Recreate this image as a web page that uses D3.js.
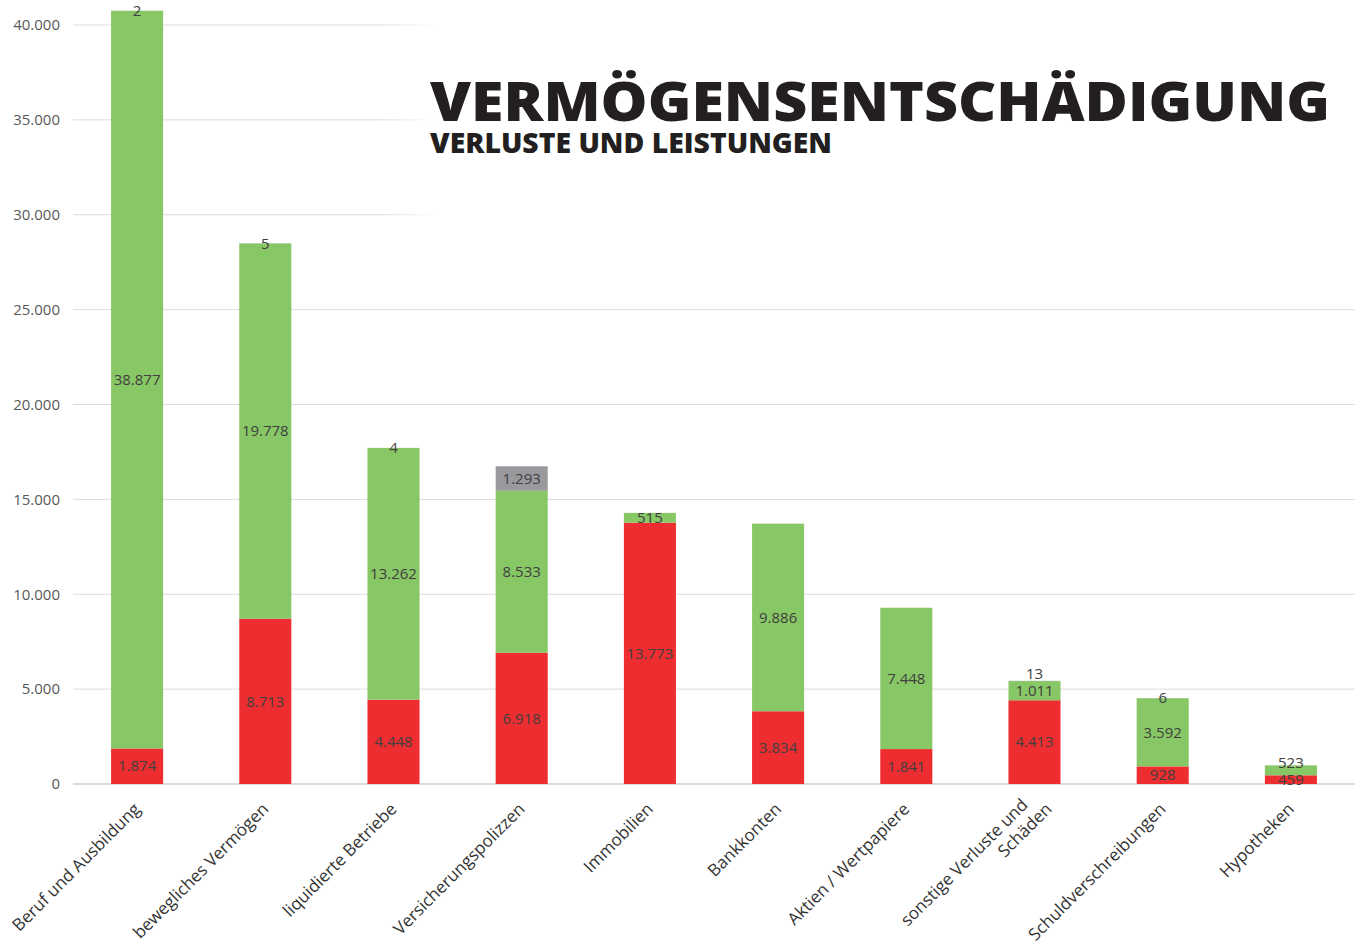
<!DOCTYPE html>
<html>
<head>
<meta charset="utf-8">
<script src="https://cdn.jsdelivr.net/npm/d3@7"></script>
<style>
  body { margin: 0; background: #fff; }
  svg text { font-family: "Open Sans", "DejaVu Sans", sans-serif; }
</style>
</head>
<body>
<div id="chart"></div>
<script>
// Data
var categories = ["Beruf und Ausbildung", "bewegliches Vermögen", "liquidierte Betriebe",
  "Versicherungspolizzen", "Immobilien", "Bankkonten", "Aktien / Wertpapiere",
  "sonstige Verluste und Schäden", "Schuldverschreibungen", "Hypotheken"];
var redValues = [1874, 8713, 4448, 6918, 13773, 3834, 1841, 4413, 928, 459];
var greenValues = [38877, 19778, 13262, 8533, 515, 9886, 7448, 1011, 3592, 523];
var greyValues = [2, 5, 4, 1293, 0, 0, 0, 13, 6, 0];
var yTicks = [0, 5000, 10000, 15000, 20000, 25000, 30000, 35000, 40000];

var svgWidth = 1357;
var svgHeight = 947;
var margin = { top: 25, right: 2, bottom: 163, left: 73 };
var width = svgWidth - margin.left - margin.right;
var height = svgHeight - margin.top - margin.bottom;

var svg = d3.select("#chart").append("svg")
  .attr("width", svgWidth)
  .attr("height", svgHeight);

var chartGroup = svg.append("g")
  .attr("transform", `translate(${margin.left}, ${margin.top})`);

var xScale = d3.scaleBand()
  .domain(categories)
  .range([0, width])
  .paddingInner(0.594)
  .paddingOuter(0.297);

var yScale = d3.scaleLinear()
  .domain([0, 40000])
  .range([height, 0]);

var fmt = function (v) { return d3.format(",")(v).replace(/,/g, "."); };

// gridlines
chartGroup.append("g")
  .selectAll("line")
  .data(yTicks)
  .enter()
  .append("line")
  .attr("x1", 0)
  .attr("x2", width)
  .attr("y1", d => yScale(d))
  .attr("y2", d => yScale(d))
  .attr("stroke", d => d === 0 ? "#d0d0d0" : "#dcdcdc")
  .attr("stroke-width", d => d === 0 ? 1.5 : 1);

// y axis
var leftAxis = d3.axisLeft(yScale).tickValues(yTicks).tickSize(0).tickPadding(13)
  .tickFormat(fmt);
var yAxisG = chartGroup.append("g").call(leftAxis);
yAxisG.select(".domain").remove();
yAxisG.selectAll("text")
  .attr("font-size", "15px")
  .attr("fill", "#595959")
  .attr("font-family", "'Open Sans', sans-serif");

// stacked segments
var rows = categories.map(function (c, i) {
  return { cat: c, red: redValues[i], green: greenValues[i], grey: greyValues[i] };
});
var stack = d3.stack().keys(["red", "green", "grey"]);
var series = stack(rows);
var colors = { red: "#ee2d30", green: "#88c765", grey: "#9a9a9e" };

series.forEach(function (s) {
  chartGroup.append("g")
    .selectAll("rect")
    .data(s)
    .enter()
    .append("rect")
    .attr("x", d => xScale(d.data.cat))
    .attr("width", xScale.bandwidth())
    .attr("y", d => yScale(d[1]))
    .attr("height", d => yScale(d[0]) - yScale(d[1]))
    .attr("fill", colors[s.key]);
});

// value labels, centred in their segment, pushed up when they would collide
var labels = [];
categories.forEach(function (c, i) {
  var prevY = null;
  series.forEach(function (s) {
    var d = s[i];
    var v = d.data[s.key];
    if (!(v > 0)) return;
    var y = (yScale(d[0]) + yScale(d[1])) / 2;
    if (prevY !== null && y > prevY - 17) y = prevY - 17;
    prevY = y;
    labels.push({ cat: c, y: y, v: v });
  });
});
chartGroup.append("g")
  .selectAll("text")
  .data(labels)
  .enter()
  .append("text")
  .attr("x", d => xScale(d.cat) + xScale.bandwidth() / 2)
  .attr("y", d => d.y)
  .attr("dy", "0.35em")
  .attr("text-anchor", "middle")
  .attr("font-size", "15px")
  .attr("fill", "#404040")
  .text(d => fmt(d.v));

// category labels
var labelG = chartGroup.append("g");
categories.forEach(function (c) {
  var cx = xScale(c) + xScale.bandwidth() / 2;
  var t = labelG.append("text")
    .attr("transform", `translate(${cx}, ${height + 22}) rotate(-45)`)
    .attr("text-anchor", "end")
    .attr("font-size", "17px")
    .attr("fill", "#333");
  if (c === "sonstige Verluste und Schäden") {
    t.append("tspan").attr("x", -4).attr("y", -4).text("sonstige Verluste und");
    t.append("tspan").attr("x", 10).attr("y", 16).text("Schäden");
  } else {
    t.attr("dy", "0.35em").text(c);
  }
});

// white fading panel behind the title
var defs = svg.append("defs");
var grad = defs.append("linearGradient").attr("id", "fade");
grad.append("stop").attr("offset", "0").attr("stop-color", "#fff").attr("stop-opacity", 0);
grad.append("stop").attr("offset", "0.06").attr("stop-color", "#fff").attr("stop-opacity", 1);
grad.append("stop").attr("offset", "1").attr("stop-color", "#fff").attr("stop-opacity", 1);
svg.append("rect")
  .attr("x", 380).attr("y", 0)
  .attr("width", svgWidth - 380).attr("height", 222)
  .attr("fill", "url(#fade)");

svg.append("text")
  .attr("x", 430).attr("y", 121)
  .attr("font-family", "Lato, 'DejaVu Sans', sans-serif")
  .attr("font-weight", 900)
  .attr("font-size", "54px")
  .attr("fill", "#231f20")
  .attr("textLength", 900)
  .attr("lengthAdjust", "spacingAndGlyphs")
  .text("VERMÖGENSENTSCHÄDIGUNG");

svg.append("text")
  .attr("x", 430).attr("y", 153)
  .attr("font-family", "Lato, 'DejaVu Sans', sans-serif")
  .attr("font-weight", 900)
  .attr("font-size", "28px")
  .attr("fill", "#231f20")
  .attr("textLength", 402)
  .attr("lengthAdjust", "spacingAndGlyphs")
  .text("VERLUSTE UND LEISTUNGEN");
</script>
</body>
</html>
